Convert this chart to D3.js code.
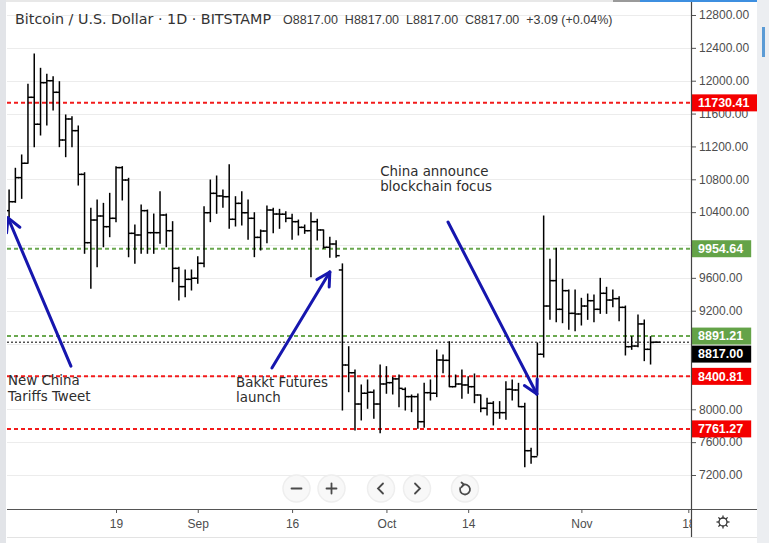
<!DOCTYPE html>
<html><head><meta charset="utf-8">
<script src="https://cdn.jsdelivr.net/npm/d3@7"></script>
<style>
html,body{margin:0;padding:0;background:#fff;}
svg{display:block;font-family:"Liberation Sans",Arial,sans-serif;}
</style></head>
<body>
<svg id="c" width="769" height="543"></svg>
<script>
// ---------- DATA ----------
const firstDay = Date.UTC(2019, 7, 2);   // Aug 2 2019, daily bars
const opens  = [10418,10527,10820,10995,11798,11470,11976,12000,11859,11278,11534,11392,10860,10028,10304,10353,10223,10325,10942,10791,10142,10122,10418,10150,10150,10365,10174,9716,9493,9582,
  9595,9777,10393,10629,10597,10588,10313,10507,10393,10325,10093,10170,10426,10377,10375,10325,10284,10215,10174,10284,10183,9972,10012,9696,8539,8445,8064,8195,8207,8064,
  8308,8324,8370,8243,8154,8154,7849,8202,8195,8600,8596,8275,8308,8296,8275,8174,8012,8073,7959,7959,8243,8235,8032,7496,7423,8670,9257,9566,9217,9444,9168,
  9160,9257,9322,9217,9412,9330,9347,9241,8762,8770,9039,8730,8817];
const highs  = [10670,10934,11096,11956,12325,12151,12078,12049,11988,11583,11562,11449,10880,10447,10548,10507,10629,10954,10954,10812,10244,10487,10426,10377,10649,10377,10284,9730,9696,9696,
  9858,10466,10791,10840,10670,10978,10588,10649,10548,10393,10183,10475,10447,10434,10406,10374,10304,10243,10393,10313,10183,10093,10053,9770,8762,8478,8296,8357,8235,8539,
  8519,8389,8417,8260,8174,8186,8316,8357,8722,8661,8823,8417,8478,8397,8430,8174,8134,8093,8093,8336,8357,8316,8073,7525,8807,10353,9826,9960,9582,9452,9452,
  9351,9403,9391,9594,9485,9452,9371,9257,8884,9148,9087,8884,8817];
const lows   = [10345,10520,10568,10995,11197,11339,11461,11643,11197,11075,11197,10730,9899,9473,9736,9979,10101,10284,10548,9857,9777,9899,9899,9899,10020,9979,9553,9330,9371,9452,
  9533,9736,10284,10386,10459,10203,10231,10244,10069,9858,9939,10028,10150,10203,10284,10069,10122,10142,9614,10061,9960,9850,9850,7991,8214,7748,7870,8012,7890,7715,
  8195,8186,8032,7991,7971,7768,7780,8113,8154,8445,8275,8275,8134,8195,8080,7971,7930,7809,7890,7878,8113,8032,7300,7343,7440,8636,9095,9067,9054,8974,8957,
  9026,9095,9067,9168,9168,9249,9079,8661,8730,8762,8592,8551,8817];
const closes = [10527,10820,10995,11798,11470,11976,12000,11859,11278,11534,11392,10860,10028,10304,10353,10223,10325,10942,10791,10142,10122,10418,10150,10150,10365,10174,9716,9493,9582,9595,
  9777,10393,10629,10597,10588,10313,10507,10393,10325,10093,10170,10426,10377,10375,10325,10284,10215,10174,10284,10183,9972,10012,9870,8539,8445,8064,8195,8207,8064,8308,
  8324,8370,8255,8154,8154,7849,8202,8195,8600,8596,8275,8308,8296,8275,8174,8012,8073,7959,7959,8243,8235,8032,7496,7423,8670,9257,9566,9217,9444,9168,9160,
  9257,9322,9217,9412,9330,9347,9241,8762,8770,9039,8730,8814,8817];

const priceTicks = [7200,7600,8000,8400,8800,9200,9600,10000,10400,10800,11200,11600,12000,12400,12800];
const priceTickHidden = [8400,8800,10000];   // hidden behind level labels in the reference
const timeTickDates  = [Date.UTC(2019,7,19), Date.UTC(2019,8,1), Date.UTC(2019,8,16), Date.UTC(2019,9,1), Date.UTC(2019,9,14), Date.UTC(2019,10,1), Date.UTC(2019,10,18)];
const timeTickLabels = ["19","Sep","16","Oct","14","Nov","18"];

const levelValues = [11730.41, 9954.64, 8891.21, 8817.00, 8400.81, 7761.27];
const levelKinds  = ["red","green","green","last","red","red"];

const headerTitle = "Bitcoin / U.S. Dollar · 1D · BITSTAMP";
const headerOHLC  = "O8817.00  H8817.00  L8817.00  C8817.00  +3.09 (+0.04%)";

// annotations in data coordinates (date ms, price)
const noteLines  = [["New China","Tariffs Tweet"],["Bakkt Futures","launch"],["China announce","blockchain focus"]];
const noteAt     = [[Date.UTC(2019,7,1,20),8290],[Date.UTC(2019,8,7,2),8277],[Date.UTC(2019,8,30,0),10846]];
const arrowTails = [[Date.UTC(2019,7,11,20),8525],[Date.UTC(2019,8,12,19),8503],[Date.UTC(2019,9,10,19),10280]];
const arrowHeads = [[Date.UTC(2019,7,1,20),10330],[Date.UTC(2019,8,22,0),9671],[Date.UTC(2019,9,24,22),8186]];

// ---------- SETUP ----------
const svg = d3.select("#c");
const plotL = 7, plotR = 691, plotT = 0, plotB = 509;
const x = d3.scaleUtc().domain([Date.UTC(2019,7,19), Date.UTC(2019,10,18)]).range([116, 688.3]);
const y = d3.scaleLinear().domain([7200, 12800]).range([475, 15]);
const dates = opens.map((_, i) => new Date(firstDay + i * 864e5));

svg.append("rect").attr("width",769).attr("height",543).attr("fill","#fff");
const defs = svg.append("defs");
defs.append("clipPath").attr("id","plotClip").append("rect")
  .attr("x",plotL).attr("y",plotT).attr("width",plotR-plotL).attr("height",plotB-plotT);
defs.append("clipPath").attr("id","timeClipAbs").append("rect").attr("x",plotL).attr("y",0).attr("width",plotR-plotL).attr("height",30);

// grid
const plot = svg.append("g").attr("clip-path","url(#plotClip)");
plot.append("g").selectAll("line").data(priceTicks).join("line")
  .attr("x1",plotL).attr("x2",plotR).attr("y1",d=>Math.round(y(d))+0.5).attr("y2",d=>Math.round(y(d))+0.5)
  .attr("stroke","#ececec").attr("stroke-width",1);

// levels
const levelStyle = {
  red:   {stroke:"#f21b1b", w:2, dash:"4,3", box:"#f40000"},
  green: {stroke:"#6aa84f", w:2, dash:"4,3", box:"#64a348"},
  last:  {stroke:"#000",    w:1, dash:"2,2", box:"#000"}
};
plot.append("g").selectAll("line").data(levelValues).join("line")
  .attr("x1",plotL).attr("x2",plotR)
  .attr("y1",d=>y(d)).attr("y2",d=>y(d))
  .attr("stroke",(d,i)=>levelStyle[levelKinds[i]].stroke)
  .attr("stroke-width",(d,i)=>levelStyle[levelKinds[i]].w)
  .attr("stroke-dasharray",(d,i)=>levelStyle[levelKinds[i]].dash);

// OHLC bars
const bars = plot.append("g").attr("stroke","#000").attr("stroke-width",1.5);
dates.forEach((d,i)=>{
  const cx = x(d);
  bars.append("line").attr("x1",cx).attr("x2",cx).attr("y1",y(highs[i])-0.5).attr("y2",y(lows[i])+0.5);
  bars.append("line").attr("x1",cx-3.6).attr("x2",cx).attr("y1",y(opens[i])).attr("y2",y(opens[i]));
  bars.append("line").attr("x1",cx).attr("x2",cx+3.6).attr("y1",y(closes[i])).attr("y2",y(closes[i]));
});

// arrows
const blue = "#1616ae";
const arr = plot.append("g").attr("stroke",blue).attr("stroke-width",3).attr("stroke-linecap","round").attr("fill","none");
arrowTails.forEach((t,i)=>{
  const h = arrowHeads[i];
  const x1=x(t[0]), y1=y(t[1]), x2=x(h[0]), y2=y(h[1]);
  arr.append("line").attr("x1",x1).attr("y1",y1).attr("x2",x2).attr("y2",y2);
  const ang = Math.atan2(y1-y2, x1-x2), L=15, a=0.5;
  [ang-a, ang+a].forEach(an=>{
    arr.append("line").attr("x1",x2).attr("y1",y2)
      .attr("x2",x2+L*Math.cos(an)).attr("y2",y2+L*Math.sin(an));
  });
});

// notes
noteLines.forEach((lines,i)=>{
  const t = plot.append("text").attr("x",x(noteAt[i][0])).attr("y",y(noteAt[i][1]))
    .attr("font-size",13.4).attr("fill","#2d2d2d").attr("font-family","DejaVu Sans, sans-serif");
  lines.forEach((s,j)=>t.append("tspan").attr("x",x(noteAt[i][0])).attr("dy",j?15.8:0).text(s));
});

// nav buttons
const btnX = [296.5,331.5,381,417,465], btnY = 488.5;
const btn = svg.append("g");
btnX.forEach(bx=>btn.append("circle").attr("cx",bx).attr("cy",btnY).attr("r",13.5)
  .attr("fill","#f8f8f8").attr("stroke","#eeeeee").attr("stroke-width",1.5));
const ic = btn.append("g").attr("stroke","#4a4a4a").attr("stroke-width",1.8).attr("fill","none").attr("stroke-linecap","round");
ic.append("line").attr("x1",btnX[0]-5).attr("x2",btnX[0]+5).attr("y1",btnY).attr("y2",btnY);
ic.append("line").attr("x1",btnX[1]-5).attr("x2",btnX[1]+5).attr("y1",btnY).attr("y2",btnY);
ic.append("line").attr("x1",btnX[1]).attr("x2",btnX[1]).attr("y1",btnY-5).attr("y2",btnY+5);
ic.append("path").attr("d",`M${btnX[2]+2},${btnY-5} L${btnX[2]-3},${btnY} L${btnX[2]+2},${btnY+5}`);
ic.append("path").attr("d",`M${btnX[3]-2},${btnY-5} L${btnX[3]+3},${btnY} L${btnX[3]-2},${btnY+5}`);
ic.append("path").attr("d",d3.arc()({innerRadius:5,outerRadius:5,startAngle:-0.5,endAngle:Math.PI*1.65}))
  .attr("transform",`translate(${btnX[4]},${btnY+1})`);
ic.append("path").attr("d",`M${btnX[4]-3.5},${btnY-6} L${btnX[4]-1},${btnY-4} L${btnX[4]-3.5},${btnY-1.5}`);

// price axis
const yAxis = d3.axisRight(y).tickValues(priceTicks.filter(v=>!priceTickHidden.includes(v))).tickSize(5).tickPadding(3).tickFormat(d3.format(".2f"));
const ya = svg.append("g").attr("transform",`translate(${plotR},0)`).call(yAxis);
ya.select(".domain").remove();
ya.selectAll("line").attr("stroke","#555");
ya.selectAll("text").attr("font-size",12).attr("fill","#4d4d4d").attr("font-family","Liberation Sans, Arial, sans-serif");

// level labels with collision handling
const lab = svg.append("g");
const order = levelValues.map((v,i)=>i).sort((a,b)=>y(levelValues[a])-y(levelValues[b]));
let prevBottom = -Infinity; const H = 17;
order.forEach(i=>{
  let top = Math.max(y(levelValues[i]) - H/2, prevBottom + 1);
  prevBottom = top + H;
  const g = lab.append("g");
  const rect = g.append("rect").attr("x",plotR+1).attr("y",top).attr("height",H)
    .attr("fill",levelStyle[levelKinds[i]].box);
  const t = g.append("text").attr("x",plotR+7).attr("y",top+H/2+4.3).attr("font-size",12.5).attr("font-weight","bold")
    .attr("fill","#fff").text(d3.format(".2f")(levelValues[i]));
  rect.attr("width",Math.min(65, t.node().getComputedTextLength()+14));
});

// time axis
const xAxis = d3.axisBottom(x).tickValues(timeTickDates).tickSize(4).tickPadding(6)
  .tickFormat((d,i)=>timeTickLabels[i]);
const xa = svg.append("g").attr("transform",`translate(0,${plotB})`).attr("clip-path","url(#timeClipAbs)").call(xAxis);
xa.select(".domain").remove();
xa.selectAll("line").attr("stroke","#555");
xa.selectAll("text").attr("font-size",12).attr("fill","#4d4d4d").attr("font-family","Liberation Sans, Arial, sans-serif");

// frame lines
svg.append("line").attr("x1",plotL).attr("x2",757).attr("y1",plotB+0.5).attr("y2",plotB+0.5).attr("stroke","#555").attr("stroke-width",1.2);
svg.append("line").attr("x1",plotR+0.5).attr("x2",plotR+0.5).attr("y1",0).attr("y2",537).attr("stroke","#444").attr("stroke-width",1.2);
svg.append("line").attr("x1",plotL).attr("x2",757).attr("y1",537.5).attr("y2",537.5).attr("stroke","#e3e3e3");

// gear
const gear = svg.append("g").attr("transform","translate(723,522)").attr("stroke","#333").attr("fill","none").attr("stroke-width",1.3);
gear.append("circle").attr("r",4);
d3.range(8).forEach(k=>{const a=k*Math.PI/4;
  gear.append("line").attr("x1",4*Math.cos(a)).attr("y1",4*Math.sin(a)).attr("x2",6.5*Math.cos(a)).attr("y2",6.5*Math.sin(a));});

// borders
svg.append("rect").attr("x",0).attr("y",0).attr("width",6).attr("height",543).attr("fill","#e2e4e8");
svg.append("rect").attr("x",757).attr("y",0).attr("width",12).attr("height",543).attr("fill","#eceef1");
svg.append("rect").attr("x",762).attr("y",27).attr("width",3).attr("height",30).attr("fill","#5b9bd5");
svg.append("rect").attr("x",6).attr("y",0).attr("width",751).attr("height",2).attr("fill","#e8e8e8");
svg.append("rect").attr("x",613).attr("y",0).attr("width",27).attr("height",2).attr("fill","#9a9a9a");
svg.append("rect").attr("x",640).attr("y",0).attr("width",117).attr("height",2).attr("fill","#3d8fe0");

// header
svg.append("text").attr("x",15).attr("y",24).attr("font-size",14.3).attr("fill","#333").attr("font-family","DejaVu Sans, sans-serif").text(headerTitle);
svg.append("text").attr("x",283).attr("y",24).attr("font-size",12.5).attr("fill","#3a3a3a").style("white-space","pre").text(headerOHLC);
</script>
</body></html>
